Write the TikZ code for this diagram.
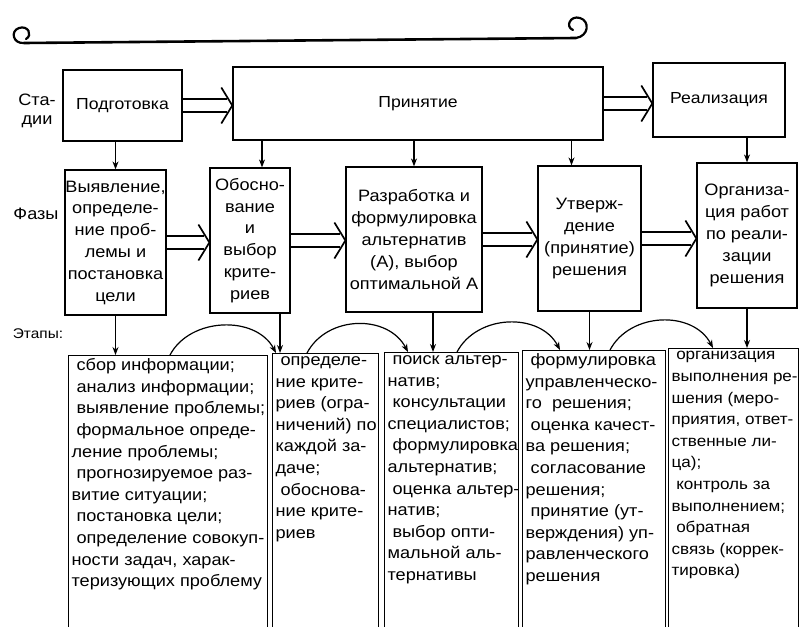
\documentclass[tikz,border=0pt]{standalone}
\usepackage{fontspec}
\setmainfont{Liberation Sans}[FakeStretch=1.1]
\usetikzlibrary{calc,arrows.meta}
\newcommand{\ind}{\hspace*{0.3em}}
% hollow double arrow between two points at the same height
\newcommand{\dblarrow}[2]{%
  \draw ($(#1)+(0,-6.5)$) -- ($(#2)+(-5,-6.5)$);
  \draw ($(#1)+(0,6.5)$) -- ($(#2)+(-5,6.5)$);
  \draw[line width=1.7pt] ($(#2)+(-11,-18)$) -- (#2) -- ($(#2)+(-11,18)$);}

\begin{document}
\begin{tikzpicture}[x=1pt, y=-1pt, line width=1.2pt,
    >={Stealth[length=8pt,width=6pt]},
    stagebox/.style={draw, line width=1.4pt, inner sep=0pt, font=\fontsize{16}{19}\selectfont},
    phasebox/.style={draw, inner sep=0pt, align=center, font=\fontsize{16.5}{21.8}\selectfont},
    stepbox/.style={draw, inner sep=0pt, anchor=north west, minimum height=285},
    steptext/.style={anchor=north west, align=left, inner sep=3pt, font=\fontsize{16.5}{21.6}\selectfont},
    rowlabel/.style={font=\fontsize{16.5}{19}\selectfont, align=center}]

    \useasboundingbox (0,0) rectangle (799,626);

    % Ornament
    \draw[line width=2.6pt, line cap=round]
        (24,43) -- (576,38);
    \draw[line width=2.2pt, line cap=round]
        (24,43) .. controls (13,44) and (10,31) .. (19,28) .. controls (28,25) and (33,35) .. (26,39);
    \draw[line width=2.2pt, line cap=round]
        (576,38) .. controls (589,36) and (590,21) .. (580,18) .. controls (570,15) and (565,27) .. (573,30);

    % Row labels
    \node[rowlabel] (lstage) at (37,111) {Ста-\\дии};
    \node[rowlabel] (lphase) at (36,214) {Фазы};
    \node[rowlabel, font=\fontsize{14}{17}\selectfont] (lstep) at (38,334) {Этапы:};

    % Stages
    \node[stagebox, minimum width=119, minimum height=71] (podg) at (122.5,105.5) {Подготовка};
    \node[stagebox, minimum width=370, minimum height=73] (prin) at (418,103.5) {Принятие};
    \node[stagebox, minimum width=132, minimum height=74] (real) at (719,100) {Реализация};

    \dblarrow{podg.east}{podg.east -| prin.west}
    \dblarrow{prin.east}{prin.east -| real.west}

    % Phases
    \node[phasebox, minimum width=101, minimum height=145] (f1) at (115.5,242.5)
        {Выявление,\\определе-\\ние проб-\\лемы и\\постановка\\цели};
    \node[phasebox, minimum width=80, minimum height=145] (f2) at (250,240.5)
        {Обосно-\\вание\\и\\выбор\\крите-\\риев};
    \node[phasebox, minimum width=136, minimum height=145] (f3) at (414,239.5)
        {Разработка и\\формулировка\\альтернатив\\(А), выбор\\оптимальной А};
    \node[phasebox, minimum width=103, minimum height=145] (f4) at (589.5,238.5)
        {Утверж-\\дение\\(принятие)\\решения};
    \node[phasebox, minimum width=100, minimum height=145] (f5) at (747,235.5)
        {Организа-\\ция работ\\по реали-\\зации\\решения};

    \coordinate (f2in) at ([xshift=12]f2.north);
    \coordinate (f4in) at ([xshift=-18]f4.north);
    \draw[->] (podg.south -| f1.north) -- (f1.north);
    \draw[->] (prin.south -| f2in) -- (f2in);
    \draw[->] (prin.south -| f3.north) -- (f3.north);
    \draw[->] (prin.south -| f4in) -- (f4in);
    \draw[->] (real.south -| f5.north) -- (f5.north);

    \dblarrow{f1.east}{f1.east -| f2.west}
    \dblarrow{f2.east}{f2.east -| f3.west}
    \dblarrow{f3.east}{f3.east -| f4.west}
    \dblarrow{f4.east}{f4.east -| f5.west}

    % Steps
    \node[stepbox, minimum width=199] (e1) at (68,355) {};
    \node[stepbox, minimum width=106] (e2) at (272,353) {};
    \node[stepbox, minimum width=134] (e3) at (384,352) {};
    \node[stepbox, minimum width=143] (e4) at (522,350) {};
    \node[stepbox, minimum width=130] (e5) at (668,348) {};

    \node[steptext] (t1) at (e1.north west)
        {\ind сбор информации;\\\ind анализ информации;\\\ind выявление проблемы;\\\ind формальное опреде-\\ление проблемы;\\\ind прогнозируемое раз-\\витие ситуации;\\\ind постановка цели;\\\ind определение совокуп-\\ности задач, харак-\\теризующих проблему};
    \node[steptext] (t2) at (e2.north west)
        {\ind определе-\\ние крите-\\риев (огра-\\ничений) по\\каждой за-\\даче;\\\ind обоснова-\\ние крите-\\риев};
    \node[steptext] (t3) at (e3.north west)
        {\ind поиск альтер-\\натив;\\\ind консультации\\специалистов;\\\ind формулировка\\альтернатив;\\\ind оценка альтер-\\натив;\\\ind выбор опти-\\мальной аль-\\тернативы};
    \node[steptext] (t4) at (e4.north west)
        {\ind формулировка\\управленческо-\\го \ решения;\\\ind оценка качест-\\ва решения;\\\ind согласование\\решения;\\\ind принятие (ут-\\верждения) уп-\\равленческого\\решения};
    \node[steptext, font=\fontsize{15.5}{21.6}\selectfont] (t5) at (e5.north west)
        {\ind организация\\выполнения ре-\\шения (меро-\\приятия, ответ-\\ственные ли-\\ца);\\\ind контроль за\\выполнением;\\\ind обратная\\связь (коррек-\\тировка)};

    \coordinate (f2out) at ([xshift=30]f2.south);
    \coordinate (f3out) at ([xshift=19]f3.south);
    \draw[->] (f1.south) -- (f1.south |- e1.north);
    \draw[->] (f2out) -- (f2out |- e2.north);
    \draw[->] (f3out) -- (f3out |- e3.north);
    \draw[->] (f4.south) -- (f4.south |- e4.north);
    \draw[->] (f5.south) -- (f5.south |- e5.north);

    % Curved links between steps
    \coordinate (a1) at ([xshift=102]e1.north west);
    \coordinate (b1) at ([xshift=4]e2.north west);
    \coordinate (a2) at ([xshift=35]e2.north west);
    \coordinate (b2) at ([xshift=24]e3.north west);
    \coordinate (a3) at ([xshift=73]e3.north west);
    \coordinate (b3) at ([xshift=38]e4.north west);
    \coordinate (a4) at ([xshift=88]e4.north west);
    \coordinate (b4) at ([xshift=45]e5.north west);
    \draw[->] (a1) .. controls +(20,-38) and +(-20,-38) .. (b1);
    \draw[->] (a2) .. controls +(20,-38) and +(-20,-38) .. (b2);
    \draw[->] (a3) .. controls +(20,-38) and +(-20,-38) .. (b3);
    \draw[->] (a4) .. controls +(20,-38) and +(-20,-38) .. (b4);

\end{tikzpicture}
\end{document}
